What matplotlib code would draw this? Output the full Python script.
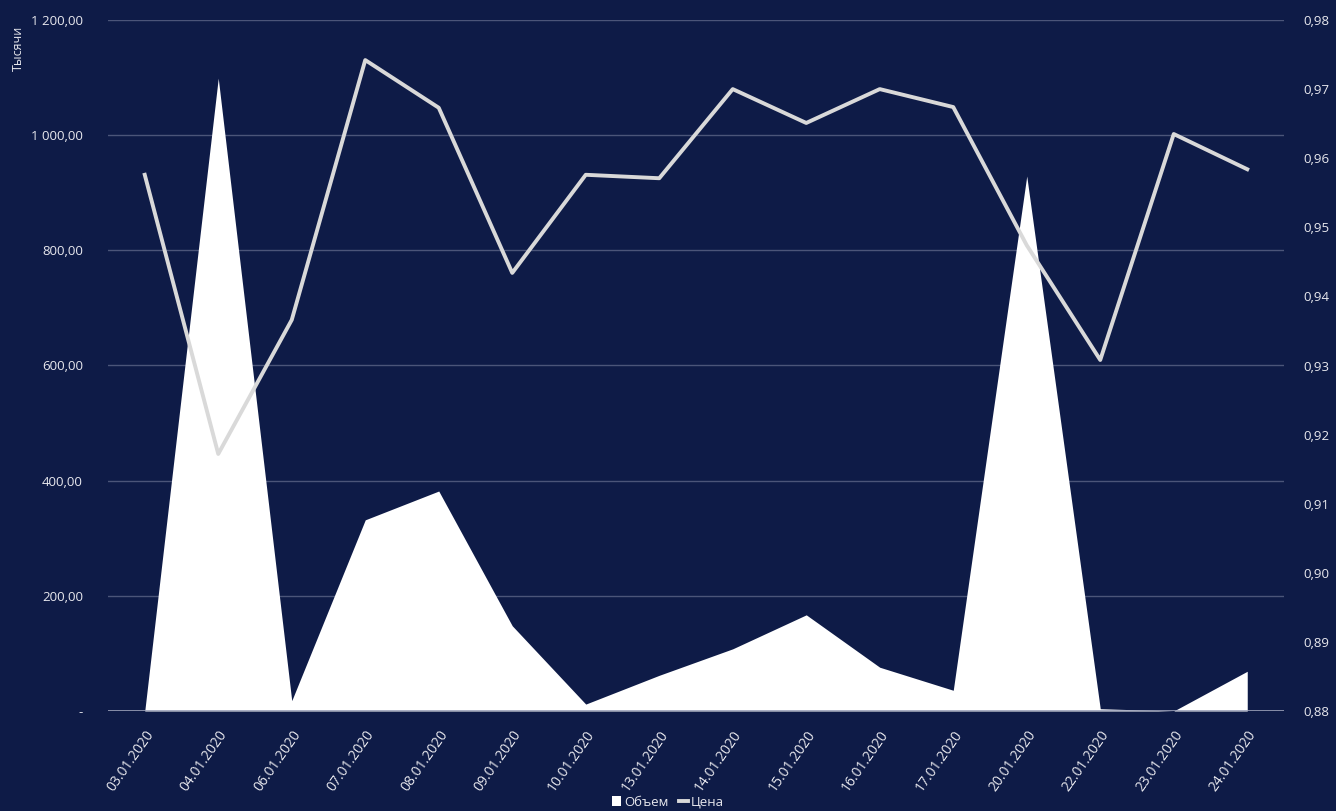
import matplotlib
matplotlib.use('Agg')
from matplotlib import pyplot as plt
from matplotlib.ticker import FuncFormatter
from matplotlib.lines import Line2D
from matplotlib.patches import Patch

plt.rcParams['font.family'] = ['Open Sans', 'DejaVu Sans']

dates = ['03.01.2020', '04.01.2020', '06.01.2020', '07.01.2020', '08.01.2020', '09.01.2020',
         '10.01.2020', '13.01.2020', '14.01.2020', '15.01.2020', '16.01.2020', '17.01.2020',
         '20.01.2020', '22.01.2020', '23.01.2020', '24.01.2020']
volume = [0, 1099, 18, 332, 382, 148, 12, 62, 108, 167, 76, 36, 929, 4, 0, 69]  # тысячи
price = [0.9576, 0.9172, 0.9366, 0.9742, 0.9673, 0.9434, 0.9576, 0.9571, 0.9700, 0.9651,
         0.9700, 0.9674, 0.9474, 0.9308, 0.9635, 0.9584]

bg = '#0e1b47'
txt = '#e8e8ee'
x = list(range(len(dates)))

fig = plt.figure(figsize=(13.36, 8.11), dpi=100, facecolor=bg)
ax = fig.add_axes([108/1336, 1 - 711/811, 1176/1336, 691/811])
ax.set_facecolor(bg)

ax.fill_between(x, volume, 0, color='white', linewidth=0, zorder=2)
ax.set_xlim(-0.5, len(dates) - 0.5)
ax.set_ylim(0, 1200)
ax.set_yticks(range(0, 1201, 200))


def fmt_left(v, pos):
    if v == 0:
        return '-'
    return '{:,.2f}'.format(v).replace(',', ' ').replace('.', ',')


ax.yaxis.set_major_formatter(FuncFormatter(fmt_left))
ax.grid(True, axis='y', color='#4b5579', linewidth=1, zorder=0)
ax.set_axisbelow(True)
for s in ax.spines.values():
    s.set_visible(False)
ax.tick_params(axis='both', length=0, colors=txt, labelsize=9.5)
ax.tick_params(axis='y', pad=18)
ax.set_xticks(x)
ax.set_xticklabels(dates, rotation=55, ha='right', rotation_mode='anchor', color=txt,
                   fontsize=10)
ax.tick_params(axis='x', pad=12)
fig.text(18/1336, 1 - 48/811, 'Тысячи', rotation=90, color=txt, fontsize=9,
         ha='center', va='center')

ax2 = ax.twinx()
ax2.plot(x, price, color='#d9d9d9', linewidth=2.8, zorder=3)
ax2.set_ylim(0.88, 0.98)
ax2.set_yticks([0.88 + i * 0.01 for i in range(11)])
ax2.yaxis.set_major_formatter(FuncFormatter(lambda v, p: '{:.2f}'.format(v).replace('.', ',')))
for s in ax2.spines.values():
    s.set_visible(False)
ax2.tick_params(axis='y', length=0, colors=txt, labelsize=9.5, pad=14)

ax.axhline(0, color='#9aa0b8', linewidth=1.2, zorder=4)

handles = [Patch(facecolor='white', edgecolor='none'),
           Line2D([], [], color='#d9d9d9', linewidth=2.8)]
fig.legend(handles, ['Объем', 'Цена'], loc='center', bbox_to_anchor=(0.5, 1 - 802/811),
           ncol=2, frameon=False, labelcolor=txt, fontsize=9.5, handlelength=0.7,
           handletextpad=0.2, columnspacing=0.8)

fig.savefig('out.png', dpi=100, facecolor=bg)
